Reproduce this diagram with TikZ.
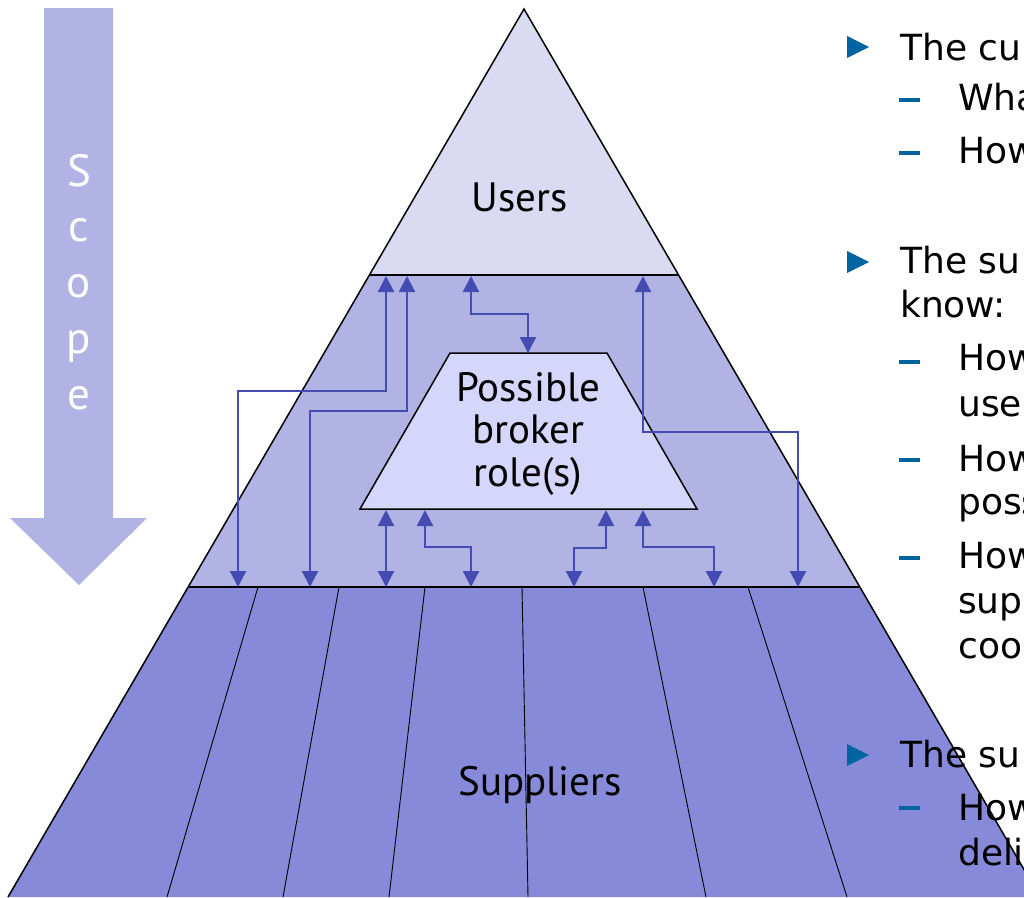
\documentclass[tikz,border=0pt]{standalone}
\usepackage{fontspec}
\setmainfont{DejaVu Sans}
\newfontfamily\labelfont{PT Sans}
\usetikzlibrary{arrows.meta}
\definecolor{usersfill}{RGB}{218,218,242}
\definecolor{midfill}{RGB}{177,179,228}
\definecolor{supfill}{RGB}{134,138,216}
\definecolor{brokerfill}{RGB}{212,214,250}
\definecolor{linkblue}{RGB}{68,76,178}
\definecolor{bulletblue}{RGB}{0,100,160}
\tikzset{
  band/.style={draw=black, line width=1.5pt, line join=miter},
  divider/.style={draw=black, line width=0.9pt},
  link/.style={draw=linkblue, line width=2.2pt,
    arrows={Triangle[width=16pt,length=16pt,fill=linkblue]-Triangle[width=16pt,length=16pt,fill=linkblue]}},
  pyrlabel/.style={font=\labelfont\fontsize{41}{46}\selectfont, align=center, inner sep=0pt},
  bodytext/.style={font=\fontsize{36}{44}\selectfont, anchor=base west, inner sep=0pt},
  scopeletter/.style={font=\labelfont\fontsize{45}{50}\selectfont, text=white, anchor=base, inner sep=0pt},
  tri/.style={fill=bulletblue},
  dashmark/.style={draw=bulletblue, line width=3.5pt}
}
\begin{document}
\begin{tikzpicture}[x=1pt, y=-1pt]
\useasboundingbox (0,0) rectangle (1024,897);
\fill[white] (0,0) rectangle (1024,897);

% scope arrow
\fill[midfill] (44,8) -- (113,8) -- (113,518) -- (147,518) -- (79,585) -- (10,518) -- (44,518) -- cycle;
\foreach \ch/\yy in {S/186, c/241, o/297, p/353, e/409}
  \node[scopeletter] at (79,\yy) {\ch};

% pyramid corners
\coordinate (apex) at (524,9);
\coordinate (ul) at (369,275);
\coordinate (ur) at (679,275);
\coordinate (ml) at (188,587);
\coordinate (mr) at (860,587);
\coordinate (bl) at (8,897);
\coordinate (br) at (1040,897);

% bands
\fill[supfill] (ml) -- (mr) -- (br) -- (bl) -- cycle;
\fill[midfill] (ul) -- (ur) -- (mr) -- (ml) -- cycle;
\fill[usersfill] (apex) -- (ur) -- (ul) -- cycle;

% supplier dividers
\foreach \xt/\xb in {258/167, 339/283, 425/389, 522/528, 643/706, 748/847}
  \draw[divider] (\xt,587) -- (\xb,897);

% outlines
\draw[band] (bl) -- (apex) -- (br);
\draw[band] (ul) -- (ur);
\draw[band] (ml) -- (mr);

% broker trapezium
\coordinate (tl) at (450,353);
\coordinate (tr) at (607,353);
\coordinate (tbr) at (697,509);
\coordinate (tbl) at (360,509);
\draw[fill=brokerfill, draw=black, line width=1.5pt] (tl) -- (tr) -- (tbr) -- (tbl) -- cycle;
\node[pyrlabel, anchor=base] (broker) at (528,401) {Possible};
\node[pyrlabel, anchor=base] (broker2) at (528,443) {broker};
\node[pyrlabel, anchor=base] (broker3) at (528,486) {role(s)};

\node[pyrlabel, anchor=base] (users) at (520,211) {Users};
\node[pyrlabel, anchor=base] (suppliers) at (540,795) {Suppliers};

% link end points
\coordinate (t1) at (386,276); \coordinate (b1) at (238,587);
\coordinate (t2) at (407,276); \coordinate (b2) at (310,587);
\coordinate (t3) at (471,276); \coordinate (c3) at (528,353);
\coordinate (t4) at (643,276); \coordinate (b4) at (798,587);
\coordinate (r5) at (386,510); \coordinate (b5) at (386,587);
\coordinate (r6) at (425,510); \coordinate (b6) at (471,587);
\coordinate (r7) at (606,510); \coordinate (b7) at (574,587);
\coordinate (r8) at (643,510); \coordinate (b8) at (714,587);

% links
\draw[link] (t1) -- ++(0,115) -| (b1);
\draw[link] (t2) -- ++(0,135) -| (b2);
\draw[link] (t3) -- ++(0,38) -| (c3);
\draw[link] (t4) -- ++(0,156) -| (b4);
\draw[link] (r5) -- (b5);
\draw[link] (r6) -- ++(0,37) -| (b6);
\draw[link] (r7) -- ++(0,38) -| (b7);
\draw[link] (r8) -- ++(0,37) -| (b8);

% bullet list
\foreach \yy in {47, 262, 755}
  \fill[tri] (847,\yy-11) -- (869,\yy) -- (847,\yy+11) -- cycle;
\foreach \yy in {100, 153, 362, 460, 558, 808}
  \draw[dashmark] (899,\yy) -- (920,\yy);

\node[bodytext] (p1) at (900,60) {The cu};
\node[bodytext] (p1a) at (958,110) {Wha};
\node[bodytext] (p1b) at (958,163) {How};
\node[bodytext] (p2) at (900,273) {The su};
\node[bodytext] (p2l) at (900,317) {know:};
\node[bodytext] (p2a) at (958,370) {How};
\node[bodytext] (p2al) at (958,416) {user};
\node[bodytext] (p2b) at (958,471) {How};
\node[bodytext] (p2bl) at (958,514) {poss};
\node[bodytext] (p2c) at (958,568) {How};
\node[bodytext] (p2cl) at (958,613) {sup};
\node[bodytext] (p2cm) at (958,658) {coor};
\node[bodytext] (p3) at (900,767) {The su};
\node[bodytext] (p3a) at (958,820) {How};
\node[bodytext] (p3al) at (958,865) {deli};
\end{tikzpicture}
\end{document}
